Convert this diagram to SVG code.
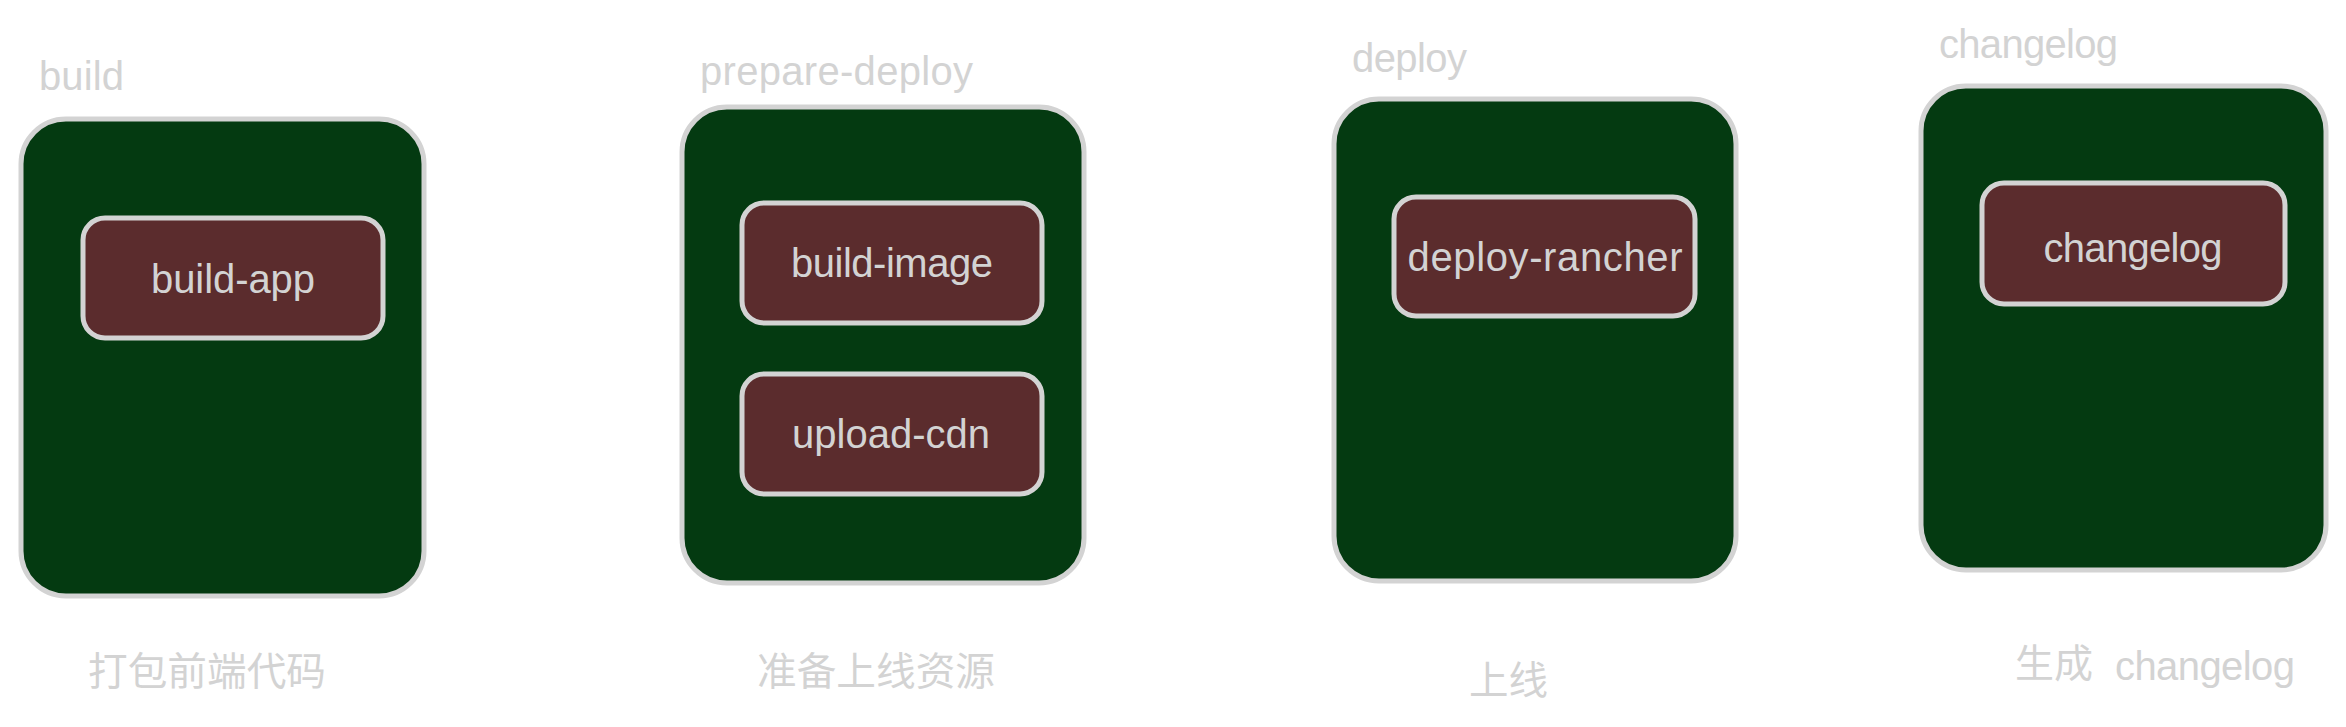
<svg xmlns="http://www.w3.org/2000/svg" width="2346" height="727" viewBox="0 0 2346 727">
<style>
.outer{fill:#043a11;stroke:#d3d3d3;stroke-width:5;}
.inner{fill:#5b2c2d;stroke:#d3d3d3;stroke-width:5;}
.t{font-family:"Liberation Sans",Arial,sans-serif;font-size:40px;fill:#d3d3d3;}
.c{font-family:"Noto Sans CJK SC","Liberation Sans",sans-serif;font-size:39px;fill:#d3d3d3;}
</style>
<rect width="2346" height="727" fill="#ffffff"/>
<g id="build">
<text class="t" x="39" y="90" textLength="85" lengthAdjust="spacing">build</text>
<rect class="outer" x="21" y="119" width="403" height="477" rx="45"/>
<text class="c" x="88" y="685" textLength="238" lengthAdjust="spacingAndGlyphs">打包前端代码</text>
</g>
<g id="build-app">
<rect class="inner" x="83" y="218" width="300" height="120" rx="22"/>
<text class="t" x="233" y="293" text-anchor="middle" textLength="164" lengthAdjust="spacing">build-app</text>
</g>
<g id="prepare-deploy">
<text class="t" x="700" y="85" textLength="273" lengthAdjust="spacing">prepare-deploy</text>
<rect class="outer" x="682" y="107" width="402" height="476" rx="45"/>
<text class="c" x="757" y="685" textLength="238" lengthAdjust="spacingAndGlyphs">准备上线资源</text>
</g>
<g id="build-image">
<rect class="inner" x="742" y="203" width="300" height="120" rx="22"/>
<text class="t" x="892" y="277" text-anchor="middle" textLength="202" lengthAdjust="spacing">build-image</text>
</g>
<g id="upload-cdn">
<rect class="inner" x="742" y="374" width="300" height="120" rx="22"/>
<text class="t" x="891" y="448" text-anchor="middle" textLength="198" lengthAdjust="spacing">upload-cdn</text>
</g>
<g id="deploy">
<text class="t" x="1352" y="72" textLength="115" lengthAdjust="spacing">deploy</text>
<rect class="outer" x="1334" y="99" width="402" height="482" rx="45"/>
<text class="c" x="1469" y="694" textLength="79" lengthAdjust="spacingAndGlyphs">上线</text>
</g>
<g id="deploy-rancher">
<rect class="inner" x="1394" y="197" width="301" height="119" rx="22"/>
<text class="t" x="1545" y="271" text-anchor="middle" textLength="275" lengthAdjust="spacing">deploy-rancher</text>
</g>
<g id="changelog-stage">
<text class="t" x="1939" y="58" textLength="179" lengthAdjust="spacing">changelog</text>
<rect class="outer" x="1921" y="86" width="405" height="484" rx="45"/>
<text class="c" y="677"><tspan x="2015" textLength="78" lengthAdjust="spacingAndGlyphs">生成</tspan><tspan x="2115" y="680" textLength="180" lengthAdjust="spacing" style="font-family:'Liberation Sans',Arial,sans-serif;font-size:40px">changelog</tspan></text>
</g>
<g id="changelog">
<rect class="inner" x="1982" y="183" width="303" height="121" rx="22"/>
<text class="t" x="2133" y="262" text-anchor="middle" textLength="179" lengthAdjust="spacing">changelog</text>
</g>
<g id="connectors"></g>
</svg>
